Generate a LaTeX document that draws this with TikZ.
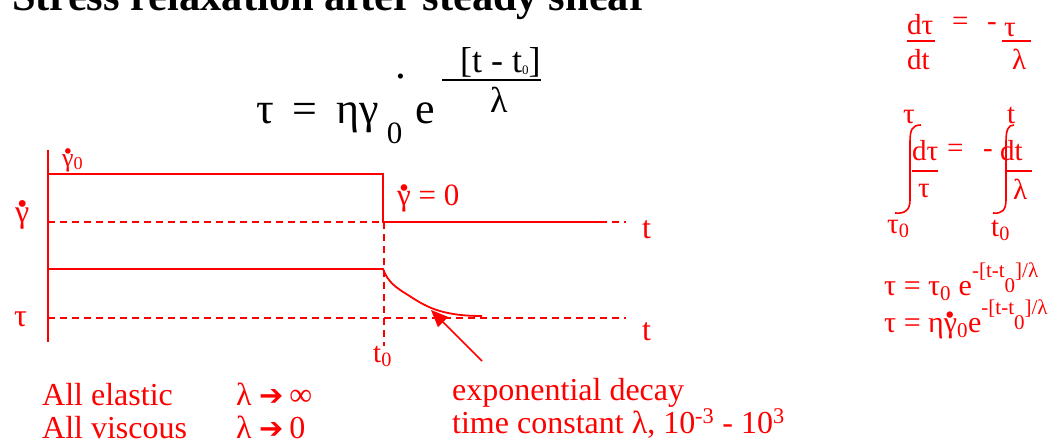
\documentclass[tikz,border=0pt]{standalone}
\usepackage{fontspec}
\setmainfont{Liberation Serif}
\newfontfamily\symfont{DejaVu Sans}
\usetikzlibrary{arrows.meta}
\definecolor{srred}{HTML}{FF0000}
\newcommand{\gdot}{\leavevmode\ooalign{γ\cr\hidewidth\raisebox{.48em}{\scalebox{1.8}{.}}\hidewidth\cr}}
\newcommand{\lowz}{\raisebox{-.45em}{\fontsize{31pt}{31pt}\selectfont 0}}
\newcommand{\rarr}{{\symfont\fontsize{29pt}{29pt}\selectfont ➔}}

\begin{document}
\begin{tikzpicture}[x=1pt, y=-1pt,
  txt/.style={text=srred, inner sep=0pt, anchor=base west, font=\fontsize{32pt}{36pt}\selectfont},
  sml/.style={txt, font=\fontsize{29pt}{33pt}\selectfont},
  lbl/.style={txt, font=\fontsize{26pt}{30pt}\selectfont},
  blk/.style={txt, text=black, font=\fontsize{36pt}{40pt}\selectfont},
  trace/.style={draw=srred, line width=1.8pt},
  guide/.style={draw=srred, line width=1.4pt, dash pattern=on 7pt off 5pt},
  bar/.style={draw=srred, line width=1.6pt},
  ptr/.style={-{Triangle[length=17pt,width=14pt]}, draw=srred, fill=srred, line width=1.6pt}
]
\useasboundingbox (0,0) rectangle (1058,444);
\node[blk, font=\bfseries\fontsize{42.5pt}{46pt}\selectfont] (title) at (12,11) {Stress relaxation after steady shear};
\node[blk, font=\fontsize{44pt}{48pt}\selectfont] (law) at (256,124) {τ\hspace{.42em}=\hspace{.45em}ηγ\,\lowz\hspace{.3em}e};
\node[blk] (lawdot) at (395,79) {\scalebox{1.2}{.}};
\node[blk] (lawnum) at (460,73) {[t - t\raisebox{-.05em}{\fontsize{13pt}{13pt}\selectfont 0}]};
\draw[bar, draw=black] (442,80) -- (541,80);
\node[blk] (lawden) at (490,113) {λ};

\draw[trace] (48,150) -- (48,342);
\draw[trace] (48,174) -- (383,174) -- (383,222) -- (600,222);
\draw[guide] (48,222) -- (626,222);
\draw[guide] (384,222) -- (384,346);
\draw[trace] (48,269) -- (383,269) .. controls (388,282) and (395,287) .. (408,295) .. controls (425,306) and (440,316) .. (482,316);
\draw[guide] (48,318) -- (626,318);
\node[lbl] (g0) at (62,166) {\gdot\textsubscript{0}};
\node[txt] (gl) at (15,222) {\gdot};
\node[txt] (tl) at (14,326) {τ};
\node[txt, font=\fontsize{31pt}{35pt}\selectfont] (gz) at (397,205) {\gdot\ = 0};
\node[txt] (t1) at (642,238) {t};
\node[txt] (t2) at (642,340) {t};
\node[sml] (t0) at (373,362) {t\textsubscript{0}};
\coordinate (tail) at (482,361);
\coordinate (tip) at (431,310);
\draw[ptr] (tail) -- (tip);

\node[txt] (el) at (42,405) {All elastic};
\node[txt] (ell) at (236,405) {λ \rarr\,∞};
\node[txt] (vi) at (42,438) {All viscous};
\node[txt] (vil) at (236,438) {λ \rarr\,0};
\node[txt] (ed) at (452,400) {exponential decay};
\node[txt] (tc) at (452,433) {time constant λ, 10\textsuperscript{-3} - 10\textsuperscript{3}};

\node[sml] (r1n) at (907,35) {dτ};
\draw[bar] (907,41) -- (935,41);
\node[sml] (r1d) at (907,70) {dt};
\node[sml] (r1eq) at (952,31) {=};
\node[sml] (r1m) at (987,31) {-};
\node[sml] (r1tn) at (1004,37) {τ};
\draw[bar] (1002,41) -- (1031,41);
\node[sml] (r1td) at (1012,70) {λ};

\node[sml] (iu1) at (903,123) {τ};
\node[sml] (iu2) at (1007,123) {t};
\draw[bar] (921,125) .. controls (912,125) and (910,130) .. (910,142) -- (910,200) .. controls (910,210) and (905,214) .. (895,213);
\draw[bar] (1014,125) .. controls (1008,125) and (1006,130) .. (1006,142) -- (1006,200) .. controls (1006,210) and (1002,214) .. (993,213);
\node[sml] (i1n) at (912,160) {dτ};
\draw[bar] (912,171) -- (938,171);
\node[sml] (i1d) at (918,197) {τ};
\node[sml] (ieq) at (947,157) {=};
\node[sml] (im) at (983,157) {-};
\node[sml] (i2n) at (1000,160) {dt};
\draw[bar] (1007,171) -- (1032,171);
\node[sml] (i2d) at (1013,199) {λ};
\node[sml] (il1) at (887,233) {τ\textsubscript{0}};
\node[sml] (il2) at (991,236) {t\textsubscript{0}};

\node[txt, font=\fontsize{30pt}{34pt}\selectfont] (s1) at (884,295) {τ = τ\textsubscript{0} e\textsuperscript{-[t-t\raisebox{-.7em}{0}]/λ}};
\node[txt, font=\fontsize{30pt}{34pt}\selectfont] (s2) at (884,332) {τ = η\gdot\textsubscript{0}e\textsuperscript{-[t-t\raisebox{-.7em}{0}]/λ}};
\end{tikzpicture}
\end{document}
